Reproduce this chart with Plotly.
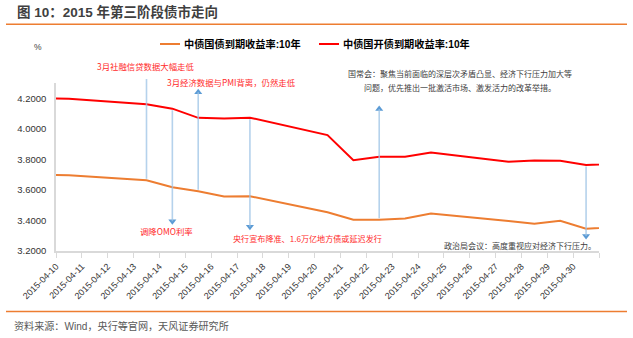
import plotly.graph_objects as go

# ---------------- data ----------------
dates = ['2015-04-09', '2015-04-10', '2015-04-13', '2015-04-14', '2015-04-15', '2015-04-16',
         '2015-04-17', '2015-04-20', '2015-04-21', '2015-04-22', '2015-04-23', '2015-04-24',
         '2015-04-27', '2015-04-28', '2015-04-29', '2015-04-30', '2015-05-04']
gov_yield = [3.700, 3.696, 3.663, 3.617, 3.591, 3.557, 3.559, 3.454, 3.405, 3.405, 3.413, 3.445,
             3.396, 3.379, 3.398, 3.346, 3.380]
cdb_yield = [4.200, 4.197, 4.161, 4.132, 4.072, 4.068, 4.073, 3.959, 3.795, 3.817, 3.817, 3.845,
             3.785, 3.793, 3.791, 3.763, 3.796]
series_names = ['中债国债到期收益率:10年', '中债国开债到期收益率:10年']

tick_dates = ['2015-04-%02d' % d for d in range(10, 31)] + ['2015-05-01']
tick_labels = ['2015-04-%02d' % d for d in range(10, 31)] + ['']

event_dates = ['2015-04-13', '2015-04-14', '2015-04-15', '2015-04-17', '2015-04-22', '2015-04-30']
event_dir = ['up', 'down', 'up', 'down', 'up', 'down']
event_tip = [4.326, 3.394, 4.239, 3.358, 4.130, 3.299]
event_text = ['3月社融信贷数据大幅走低', '调降OMO利率', '3月经济数据与PMI背离，仍然走低',
              '央行宣布降准、1.6万亿地方债或延迟发行',
              '国常会：聚焦当前面临的深层次矛盾凸显、经济下行压力加大等<br>问题，优先推出一批激活市场、激发活力的改革举措。',
              '政治局会议：高度重视应对经济下行压力。']

# ---------------- style / layout ----------------
W, H = 633, 338
ML, MR, MT, MB = 56, 34, 83, 87
PW, PH = W - ML - MR, H - MT - MB


def pxp(x):
    return (x - ML) / PW


def pyp(y):
    return (H - MB - y) / PH


ORANGE = '#ed7d31'
RED = '#ff0000'
TXTRED = '#ff2a2a'
FONT = 'Liberation Sans, Noto Sans CJK SC, sans-serif'
CJK = 'Noto Sans CJK SC, Liberation Sans, sans-serif'

xs = [d + ' 12:00' for d in dates]

fig = go.Figure()
fig.add_trace(go.Scatter(x=xs, y=gov_yield, mode='lines', name=series_names[0],
                         line=dict(color=ORANGE, width=2), showlegend=False))
fig.add_trace(go.Scatter(x=xs, y=cdb_yield, mode='lines', name=series_names[1],
                         line=dict(color=RED, width=2), showlegend=False))

annotations = []
# arrows: stems from the relevant line to the tip
val_gov = dict(zip(dates, gov_yield))
val_cdb = dict(zip(dates, cdb_yield))
head_x, head_y, head_sym = [], [], []
for d, dr, tip in zip(event_dates, event_dir, event_tip):
    start = val_gov[d] if dr == 'up' else val_cdb[d]
    xe = d + ' 12:00'
    annotations.append(dict(x=xe, y=tip, ax=xe, ay=start, xref='x', yref='y',
                            axref='x', ayref='y', text='', showarrow=True,
                            arrowhead=0, arrowwidth=1.6, arrowcolor='rgba(157,195,230,0.75)'))
    head_x.append(xe)
    head_y.append(tip)
    head_sym.append('triangle-up' if dr == 'up' else 'triangle-down')

fig.add_trace(go.Scatter(x=head_x, y=head_y, mode='markers', cliponaxis=False,
                         marker=dict(symbol=head_sym, size=7, color='#5b9bd5'),
                         showlegend=False, hoverinfo='skip'))

# event texts: (xshift px, xanchor, y px, color, size)
text_style = [(-1.5, 'center', 65.7, TXTRED, 8.4),
              (-6, 'center', 231, TXTRED, 8.4),
              (-33, 'left', 82.3, TXTRED, 8.4),
              (-19, 'left', 238.3, TXTRED, 8.1),
              (81, 'center', 80.3, '#404040', 8),
              (12, 'right', 245, '#404040', 8)]
for d, t, (xs_, xa, ypx, col, fs) in zip(event_dates, event_text, text_style):
    if '<br>' in t:
        lines = t.split('<br>')
        for i, ln in enumerate(lines):
            annotations.append(dict(x=d + ' 12:00', xref='x', y=pyp(ypx - 7 + 14 * i), yref='paper',
                                    text=ln, showarrow=False, xanchor=xa, yanchor='middle',
                                    xshift=xs_, font=dict(family=CJK, size=fs, color=col)))
    else:
        annotations.append(dict(x=d + ' 12:00', xref='x', y=pyp(ypx), yref='paper',
                                text=t, showarrow=False, xanchor=xa, yanchor='middle',
                                xshift=xs_, font=dict(family=CJK, size=fs, color=col)))

# title, unit, legend, source
annotations.append(dict(x=pxp(15), y=pyp(12.5), xref='paper', yref='paper', showarrow=False,
                        xanchor='left', yanchor='middle',
                        text='<b>图 10：2015 年第三阶段债市走向</b>',
                        font=dict(family=FONT, size=13.5, color='#404040')))
annotations.append(dict(x=pxp(38), y=pyp(46.5), xref='paper', yref='paper', showarrow=False,
                        xanchor='center', yanchor='middle', text='%',
                        font=dict(family=FONT, size=8.5, color='#404040')))
annotations.append(dict(x=pxp(182), y=pyp(44), xref='paper', yref='paper', showarrow=False,
                        xanchor='left', yanchor='middle', text='<b>' + series_names[0] + '</b>',
                        font=dict(family=FONT, size=10.2, color='#000000')))
annotations.append(dict(x=pxp(341), y=pyp(44), xref='paper', yref='paper', showarrow=False,
                        xanchor='left', yanchor='middle', text='<b>' + series_names[1] + '</b>',
                        font=dict(family=FONT, size=10.2, color='#000000')))
annotations.append(dict(x=pxp(12), y=pyp(326), xref='paper', yref='paper', showarrow=False,
                        xanchor='left', yanchor='middle', text='资料来源：Wind，央行等官网，天风证券研究所',
                        font=dict(family=FONT, size=10.1, color='#595959')))

shapes = [
    dict(type='line', xref='paper', yref='paper', x0=pxp(6), x1=pxp(627), y0=pyp(24.3), y1=pyp(24.3),
         line=dict(color=ORANGE, width=1.5)),
    dict(type='line', xref='paper', yref='paper', x0=pxp(6), x1=pxp(627), y0=pyp(311.5), y1=pyp(311.5),
         line=dict(color=ORANGE, width=1.5)),
    dict(type='line', xref='paper', yref='paper', x0=pxp(160), x1=pxp(180), y0=pyp(44), y1=pyp(44),
         line=dict(color=ORANGE, width=2)),
    dict(type='line', xref='paper', yref='paper', x0=pxp(319), x1=pxp(339), y0=pyp(44), y1=pyp(44),
         line=dict(color=RED, width=2)),
]

fig.update_layout(
    width=W, height=H,
    margin=dict(l=ML, r=MR, t=MT, b=MB),
    paper_bgcolor='white', plot_bgcolor='white',
    font=dict(family=FONT, size=9, color='#333333'),
    annotations=annotations, shapes=shapes,
    showlegend=False,
    xaxis=dict(type='date', range=['2015-04-10', '2015-05-01'], tickmode='array',
               tickvals=tick_dates, ticktext=tick_labels, tickangle=-45,
               ticks='outside', ticklen=5, tickcolor='#d9d9d9', tickwidth=1,
               showline=True, linecolor='#d9d9d9', linewidth=1.5, showgrid=False, zeroline=False,
               tickfont=dict(family=FONT, size=9, color='#333333')),
    yaxis=dict(range=[3.2, 4.3], tickmode='array', tickvals=[3.2, 3.4, 3.6, 3.8, 4.0, 4.2],
               tickformat='.4f', showline=True, linecolor='#d9d9d9', linewidth=1.5,
               showgrid=False, zeroline=False, ticks='', ticklabelstandoff=6,
               tickfont=dict(family=FONT, size=9.5, color='#333333')),
)

fig.write_html('out.html')
